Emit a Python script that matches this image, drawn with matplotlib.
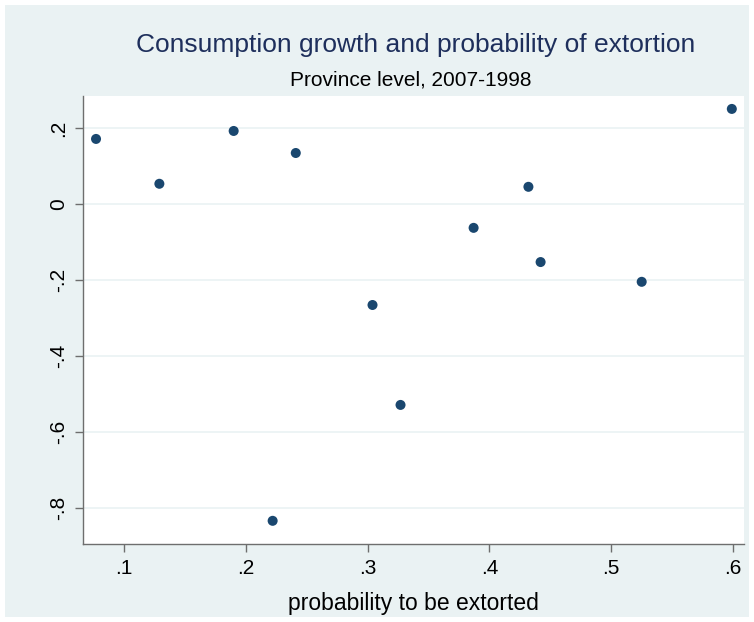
import matplotlib
matplotlib.use("Agg")
import matplotlib.pyplot as plt
from matplotlib.patches import Rectangle

# Data
prob_extorted = [0.077, 0.129, 0.190, 0.241, 0.222, 0.304, 0.327, 0.387, 0.432, 0.442, 0.525, 0.599]
cons_growth = [0.171, 0.053, 0.192, 0.134, -0.834, -0.266, -0.529, -0.063, 0.045, -0.153, -0.205, 0.250]

xticks = [0.1, 0.2, 0.3, 0.4, 0.5, 0.6]
xtick_labels = [".1", ".2", ".3", ".4", ".5", ".6"]
yticks = [0.2, 0, -0.2, -0.4, -0.6, -0.8]
ytick_labels = [".2", "0", "-.2", "-.4", "-.6", "-.8"]

bg = "#eaf2f3"
navy = "#1a476f"
font = ["Liberation Sans Narrow", "Liberation Sans", "DejaVu Sans"]
plt.rcParams["font.family"] = font

W, H = 754, 622
fig = plt.figure(figsize=(W / 100, H / 100), dpi=100, facecolor="white")

# Stata style outer background with thin white margin
fig.patches.append(Rectangle((5 / W, 5 / H), 744 / W, 612 / H, transform=fig.transFigure,
                             facecolor=bg, edgecolor="none", zorder=-10))

ax = fig.add_axes([83 / W, (H - 544) / H, (744 - 83) / W, (544 - 96) / H])
ax.set_facecolor("white")

ax.scatter(prob_extorted, cons_growth, s=52, color=navy, edgecolors="none", zorder=3)

ax.set_xlim(0.0663, 0.609)
ax.set_ylim(-0.895, 0.284)

ax.set_xticks(xticks)
ax.set_xticklabels(xtick_labels)
ax.set_yticks(yticks)
ax.set_yticklabels(ytick_labels, rotation=90, va="center")

ax.grid(axis="y", color=bg, linewidth=1.2)
ax.set_axisbelow(True)

for side in ["top", "right"]:
    ax.spines[side].set_visible(False)
for side in ["left", "bottom"]:
    ax.spines[side].set_color("#6e6e6e")
    ax.spines[side].set_linewidth(1.0)

ax.tick_params(axis="both", direction="out", length=6, width=1, color="#6e6e6e",
               labelsize=15, labelcolor="black", pad=5)

ax.set_xlabel("probability to be extorted", fontsize=16.5, labelpad=10)

fig.text(416 / W, 1 - 45 / H, "Consumption growth and probability of extortion",
         ha="center", va="center", fontsize=19, color="#1e2f5c")
fig.text(411 / W, 1 - 80 / H, "Province level, 2007-1998",
         ha="center", va="center", fontsize=15, color="black")

fig.savefig("out.png", dpi=100, facecolor=fig.get_facecolor())
